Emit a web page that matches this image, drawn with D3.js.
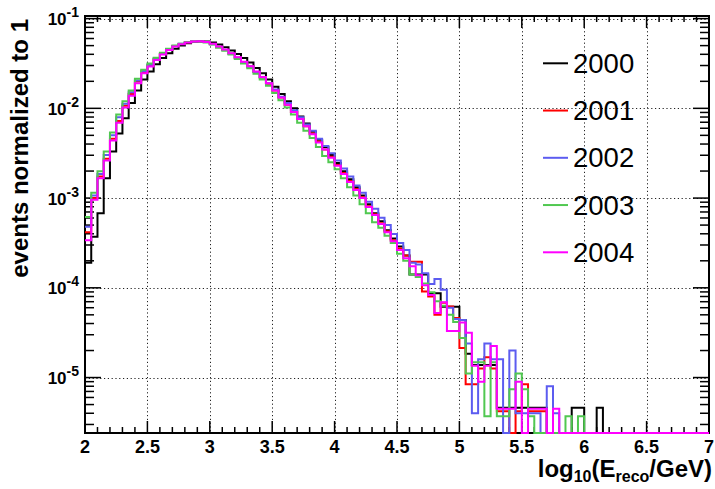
<!DOCTYPE html>
<html><head><meta charset="utf-8">
<script src="https://cdn.jsdelivr.net/npm/d3@7"></script>
<style>
html,body{margin:0;padding:0;background:#fff;}
svg text{font-family:"Liberation Sans",Arial,Helvetica,sans-serif;}
</style></head>
<body><svg id="c" width="715" height="489"></svg>
<script>
// ---- data ----
const binStart = 2.0, binWidth = 0.05, nBins = 100;
const years = ["2000","2001","2002","2003","2004"];
const colors = ["#000000","#ff0000","#5c5cf0","#50c850","#ff00ff"];
const v2000 = [1.905e-4,3.715e-4,6.76e-4,1.66e-3,3.31e-3,5.25e-3,7.76e-3,1.148e-2,1.585e-2,2.09e-2,
2.57e-2,3.09e-2,3.63e-2,4.12e-2,4.62e-2,5.01e-2,5.31e-2,5.50e-2,5.60e-2,5.56e-2,
5.43e-2,5.13e-2,4.79e-2,4.42e-2,4.03e-2,3.63e-2,3.24e-2,2.82e-2,2.455e-2,2.09e-2,
1.74e-2,1.445e-2,1.20e-2,1.00e-2,8.13e-3,6.76e-3,5.50e-3,4.47e-3,3.715e-3,3.02e-3,
2.455e-3,1.995e-3,1.62e-3,1.318e-3,1.07e-3,8.51e-4,6.76e-4,5.50e-4,4.37e-4,3.55e-4,
2.88e-4,2.29e-4,1.41e-4,1.41e-4,1.41e-4,8.71e-5,8.71e-5,6.17e-5,6.17e-5,6.17e-5,
4.37e-5,1.84e-5,1.38e-5,1.38e-5,1.38e-5,1.38e-5,4.6e-6,4.6e-6,4.6e-6,4.6e-6,
4.6e-6,4.6e-6,4.6e-6,4.6e-6,0,0,0,0,4.6e-6,4.6e-6,
0,0,4.6e-6,0,0,0,0,0,0,0,
0,0,0,0,0,0,0,0,0,0];
const v2001 = [4.17e-4,1.0e-3,1.74e-3,2.75e-3,4.57e-3,7.24e-3,1.07e-2,1.445e-2,1.995e-2,2.54e-2,
3.02e-2,3.55e-2,4.05e-2,4.52e-2,4.955e-2,5.22e-2,5.46e-2,5.56e-2,5.57e-2,5.47e-2,
5.20e-2,4.84e-2,4.47e-2,4.07e-2,3.67e-2,3.27e-2,2.92e-2,2.54e-2,2.21e-2,1.88e-2,
1.585e-2,1.318e-2,1.096e-2,9.12e-3,7.59e-3,6.31e-3,5.25e-3,4.27e-3,3.47e-3,2.88e-3,
2.34e-3,1.905e-3,1.55e-3,1.26e-3,1.023e-3,8.13e-4,6.61e-4,5.25e-4,4.27e-4,3.39e-4,
2.75e-4,2.29e-4,1.95e-4,1.95e-4,9.1e-5,8.0e-5,5.0e-5,6.8e-5,6.2e-5,4.6e-5,
2.14e-5,8.4e-6,8.4e-6,1.26e-5,1.68e-5,1.26e-5,4.2e-6,4.2e-6,0,4.2e-6,
8.4e-6,4.2e-6,4.2e-6,4.2e-6,0,0,0,0,0,0,
0,0,0,0,0,0,0,0,0,0,
0,0,0,0,0,0,0,0,0,0];
const v2002 = [4.79e-4,1.07e-3,1.86e-3,3.02e-3,5.01e-3,7.94e-3,1.122e-2,1.51e-2,2.04e-2,2.60e-2,
3.055e-2,3.59e-2,4.07e-2,4.57e-2,4.955e-2,5.25e-2,5.47e-2,5.56e-2,5.56e-2,5.47e-2,
5.19e-2,4.84e-2,4.47e-2,4.07e-2,3.67e-2,3.27e-2,2.92e-2,2.54e-2,2.21e-2,1.905e-2,
1.62e-2,1.35e-2,1.148e-2,9.55e-3,7.94e-3,6.61e-3,5.62e-3,4.57e-3,3.80e-3,3.16e-3,
2.63e-3,2.14e-3,1.74e-3,1.38e-3,1.148e-3,9.12e-4,7.59e-4,6.03e-4,5.01e-4,3.98e-4,
3.16e-4,2.63e-4,1.905e-4,1.82e-4,1.45e-4,1.1e-4,1.25e-4,9.5e-5,6.0e-5,4.5e-5,
4.37e-5,2.4e-5,4.0e-6,1.6e-5,2.4e-5,1.6e-5,1.6e-5,0,2.0e-5,4.0e-6,
4.0e-6,4.0e-6,4.0e-6,0,8.0e-6,4.0e-6,0,0,0,0,
0,0,0,0,0,0,0,0,0,0,
0,0,0,0,0,0,0,0,0,0];
const v2003 = [6.17e-4,1.148e-3,1.995e-3,3.31e-3,5.37e-3,8.51e-3,1.20e-2,1.585e-2,2.14e-2,2.69e-2,
3.16e-2,3.67e-2,4.17e-2,4.62e-2,5.01e-2,5.25e-2,5.47e-2,5.56e-2,5.56e-2,5.43e-2,
5.13e-2,4.73e-2,4.37e-2,3.98e-2,3.55e-2,3.16e-2,2.79e-2,2.43e-2,2.09e-2,1.78e-2,
1.48e-2,1.23e-2,1.023e-2,8.51e-3,6.92e-3,5.62e-3,4.68e-3,3.715e-3,2.95e-3,2.51e-3,
2.09e-3,1.66e-3,1.318e-3,1.07e-3,8.51e-4,6.76e-4,5.37e-4,4.68e-4,3.80e-4,3.16e-4,
2.40e-4,2.0e-4,1.41e-4,1.318e-4,1.12e-4,8.91e-5,7.08e-5,6.31e-5,5.01e-5,4.17e-5,
2.75e-5,1.11e-5,1.48e-5,1.48e-5,3.7e-6,1.48e-5,3.7e-6,3.7e-6,7.4e-6,1.11e-5,
7.4e-6,3.7e-6,0,0,0,0,0,3.7e-6,0,3.7e-6,
0,0,0,0,0,0,0,0,0,0,
0,0,0,0,0,0,0,0,0,0];
const v2004 = [3.388e-4,9.55e-4,1.66e-3,2.63e-3,4.37e-3,6.92e-3,1.023e-2,1.38e-2,1.905e-2,2.455e-2,
2.917e-2,3.467e-2,3.98e-2,4.467e-2,4.898e-2,5.19e-2,5.43e-2,5.56e-2,5.60e-2,5.50e-2,
5.25e-2,4.90e-2,4.52e-2,4.12e-2,3.715e-2,3.31e-2,2.95e-2,2.57e-2,2.24e-2,1.905e-2,
1.585e-2,1.318e-2,1.096e-2,9.12e-3,7.59e-3,6.31e-3,5.13e-3,4.17e-3,3.47e-3,2.82e-3,
2.29e-3,1.86e-3,1.51e-3,1.23e-3,1.00e-3,7.94e-4,6.46e-4,5.13e-4,4.17e-4,3.31e-4,
2.63e-4,2.14e-4,1.74e-4,1.38e-4,1.07e-4,8.3e-5,5.25e-5,6.9e-5,3.3e-5,3.3e-5,
4.1e-5,3.15e-5,1.35e-5,9.0e-6,1.35e-5,2.25e-5,4.5e-6,4.5e-6,4.5e-6,9.0e-6,
0,4.5e-6,4.5e-6,4.5e-6,0,4.5e-6,0,0,0,0,
0,0,0,0,0,0,0,0,0,0,
0,0,0,0,0,0,0,0,0,0];
const seriesValues = [v2000, v2001, v2002, v2003, v2004];
const xTickValues = [2,2.5,3,3.5,4,4.5,5,5.5,6,6.5,7];
const xTickLabels = ["2","2.5","3","3.5","4","4.5","5","5.5","6","6.5","7"];
const yDecades = [-5,-4,-3,-2,-1];
const yTitle = "events normalized to 1";

// ---- layout ----
const W = 715, H = 489;
const L = 85, R = 709, T = 16, B = 433;
const svg = d3.select("#c");
const x = d3.scaleLinear().domain([2,7]).range([L,R]);
const y = d3.scaleLog().domain([2.41e-6, 0.1069]).range([B,T]).clamp(true);

// grid
const grid = svg.append("g").attr("stroke","#222").attr("stroke-width",1).attr("stroke-dasharray","1.2,2.6").attr("fill","none");
xTickValues.filter(v=>v>2&&v<7).forEach(v=>{
  grid.append("line").attr("x1",Math.round(x(v))+0.5).attr("x2",Math.round(x(v))+0.5).attr("y1",T).attr("y2",B);
});
yDecades.forEach(d=>{
  const yy = Math.round(y(Math.pow(10,d)))+0.5;
  grid.append("line").attr("x1",L).attr("x2",R).attr("y1",yy).attr("y2",yy);
});

// ticks
const tk = svg.append("g").attr("stroke","#000").attr("stroke-width",1.5);
for (let i=0;i<=50;i++){
  const v = 2 + i*0.1;
  const xx = x(v);
  const major = (i%5===0);
  const len = major ? 12 : 6;
  tk.append("line").attr("x1",xx).attr("x2",xx).attr("y1",B).attr("y2",B-len);
  tk.append("line").attr("x1",xx).attr("x2",xx).attr("y1",T).attr("y2",T+len);
}
for (let d=-6; d<=-1; d++){
  for (let m=1;m<=9;m++){
    const v = m*Math.pow(10,d);
    if (v < y.domain()[0] || v > y.domain()[1]) continue;
    const yy = y(v);
    const len = (m===1) ? 16 : 9;
    tk.append("line").attr("x1",L).attr("x2",L+len).attr("y1",yy).attr("y2",yy);
    tk.append("line").attr("x1",R).attr("x2",R-len).attr("y1",yy).attr("y2",yy);
  }
}

// frame
svg.append("rect").attr("x",L).attr("y",T).attr("width",R-L).attr("height",B-T)
  .attr("fill","none").attr("stroke","#000").attr("stroke-width",2);

// histograms
svg.append("clipPath").attr("id","clip").append("rect").attr("x",L).attr("y",T).attr("width",R-L).attr("height",B-T+2);
const edges = d3.range(nBins+1).map(i=>binStart+i*binWidth);
const line = d3.line().curve(d3.curveStepAfter).x(d=>x(d[0])).y(d=>y(d[1]>0?d[1]:1e-9));
const hg = svg.append("g").attr("clip-path","url(#clip)");
seriesValues.forEach((vals,si)=>{
  const pts = vals.map((v,i)=>[edges[i],v]);
  pts.push([edges[nBins], vals[nBins-1]]);
  hg.append("path").attr("d",line(pts)).attr("fill","none")
    .attr("stroke",colors[si]).attr("stroke-width",2).attr("stroke-linejoin","miter");
});

// axis labels
const xl = svg.append("g").attr("font-weight","bold").attr("font-size",18).attr("text-anchor","middle");
xTickValues.forEach((v,i)=>{
  xl.append("text").attr("x",x(v)).attr("y",453).text(xTickLabels[i]);
});
const yl = svg.append("g").attr("font-weight","bold").attr("text-anchor","end");
yDecades.forEach(d=>{
  const t = yl.append("text").attr("x",79).attr("y",y(Math.pow(10,d))+6.5);
  t.append("tspan").attr("font-size",17).text("10");
  t.append("tspan").attr("font-size",14).attr("dy",-8).text(String(d));
});

// titles
svg.append("text").attr("transform","translate(28,19) rotate(-90)").attr("text-anchor","end")
  .attr("font-weight","bold").attr("font-size",24).text(yTitle);
const xt = svg.append("text").attr("x",712).attr("y",477).attr("text-anchor","end")
  .attr("font-weight","bold").attr("font-size",24);
xt.append("tspan").text("log");
xt.append("tspan").attr("font-size",16).attr("dy",5).text("10");
xt.append("tspan").attr("dy",-5).text("(E");
xt.append("tspan").attr("font-size",16).attr("dy",5).text("reco");
xt.append("tspan").attr("dy",-5).text("/GeV)");

// legend
const lg = svg.append("g");
years.forEach((yr,i)=>{
  const yy = 63.3 + i*47.25;
  lg.append("line").attr("x1",543).attr("x2",568).attr("y1",yy).attr("y2",yy).attr("stroke",colors[i]).attr("stroke-width",2);
  lg.append("text").attr("x",573).attr("y",yy+9.5).attr("font-size",27.5).text(yr);
});
</script></body></html>
